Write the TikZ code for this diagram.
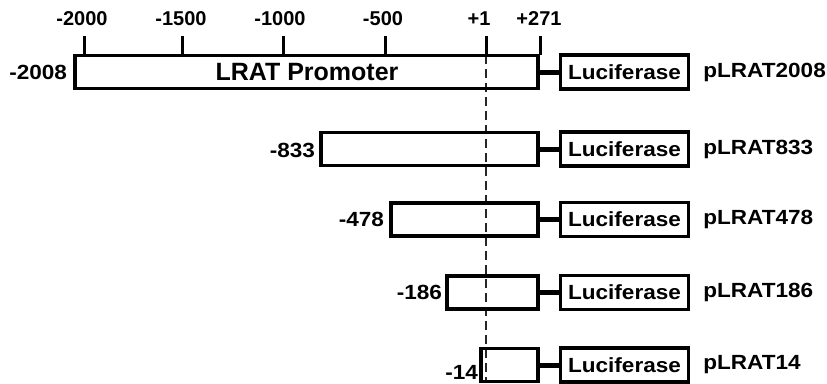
\documentclass[tikz,border=0pt]{standalone}
\usepackage{fontspec}
\setmainfont{Liberation Sans}
\newfontfamily\widefont[FakeStretch=1.1]{Liberation Sans}
\begin{document}
\begin{tikzpicture}[x=1pt,y=-1pt,
  pbox/.style={draw, line width=3.8pt, rectangle, inner sep=0pt, minimum height=33pt, anchor=east},
  lucbox/.style={draw, line width=3.4pt, rectangle, inner sep=0pt, minimum width=128pt, minimum height=34pt,
     font=\widefont\bfseries\fontsize{20.5}{21}\selectfont},
  lab/.style={inner sep=0pt, font=\widefont\bfseries\fontsize{20.5}{21}\selectfont},
  ticklab/.style={inner sep=0pt, font=\bfseries\fontsize{20}{21}\selectfont},
  conn/.style={line width=5pt},
  tickline/.style={line width=3pt},
  guide/.style={line width=1.1pt, dash pattern=on 9pt off 5pt, black!85}]
\useasboundingbox (0,0) rectangle (827,383);
\fill[white] (0,0) rectangle (827,383);

% guide line at +1
\coordinate (gtop) at (486,55);
\coordinate (gbot) at (486,383);
\draw[guide] (gtop) -- (gbot);

% promoter boxes
\node[pbox, minimum width=463pt] (p1) at (540,72) {};
\node[pbox, minimum width=217pt] (p2) at (540,149) {};
\node[pbox, minimum width=147pt] (p3) at (540,219.5) {};
\node[pbox, minimum width=91pt] (p4) at (540,292.5) {};
\node[pbox, minimum width=57pt] (p5) at (540,365) {};

\node[inner sep=0pt, font=\bfseries\fontsize{25}{26}\selectfont] (ptext) at (307,72) {LRAT Promoter};

% luciferase boxes
\node[lucbox] (l1) at (624.5,72) {Luciferase};
\node[lucbox] (l2) at (624.5,149) {Luciferase};
\node[lucbox] (l3) at (624.5,219.5) {Luciferase};
\node[lucbox] (l4) at (624.5,292.5) {Luciferase};
\node[lucbox] (l5) at (624.5,365) {Luciferase};

% connectors
\draw[conn] (p1.east) -- (l1.west);
\draw[conn] (p2.east) -- (l2.west);
\draw[conn] (p3.east) -- (l3.west);
\draw[conn] (p4.east) -- (l4.west);
\draw[conn] (p5.east) -- (l5.west);

% plasmid names
\node[lab, anchor=west] (n1) at ([xshift=13pt]l1.east) {pLRAT2008};
\node[lab, anchor=west] (n2) at ([xshift=13pt]l2.east) {pLRAT833};
\node[lab, anchor=west] (n3) at ([xshift=13pt]l3.east) {pLRAT478};
\node[lab, anchor=west] (n4) at ([xshift=13pt]l4.east) {pLRAT186};
\node[lab, anchor=west] (n5) at ([xshift=13pt]l5.east) {pLRAT14};

% start labels
\node[lab, anchor=east] (s1) at ([xshift=-6pt]p1.west) {-2008};
\node[lab, anchor=east] (s2) at ([xshift=-4pt,yshift=-1pt]p2.west) {-833};
\node[lab, anchor=east] (s3) at ([xshift=-5pt]p3.west) {-478};
\node[lab, anchor=east] (s4) at ([xshift=-3pt]p4.west) {-186};
\node[lab, anchor=east] (s5) at ([xshift=-1pt,yshift=-7pt]p5.west) {-14};

% ticks
\coordinate (t1) at (84,55);
\coordinate (t2) at (182,55);
\coordinate (t3) at (283,55);
\coordinate (t4) at (385,55);
\coordinate (t5) at (486,55);
\coordinate (t6) at (540,55);
\foreach \t in {t1,t2,t3,t4,t5,t6} {
  \draw[tickline] (\t) -- ++(0,-19);
}
\draw[tickline] (t6) -- (p1.north east);
\node[ticklab] (k1) at (82,19) {-2000};
\node[ticklab] (k2) at (181,19) {-1500};
\node[ticklab] (k3) at (280,19) {-1000};
\node[ticklab] (k4) at (383,19) {-500};
\node[ticklab] (k5) at (479,19) {+1};
\node[ticklab] (k6) at (539,19) {+271};
\end{tikzpicture}
\end{document}
